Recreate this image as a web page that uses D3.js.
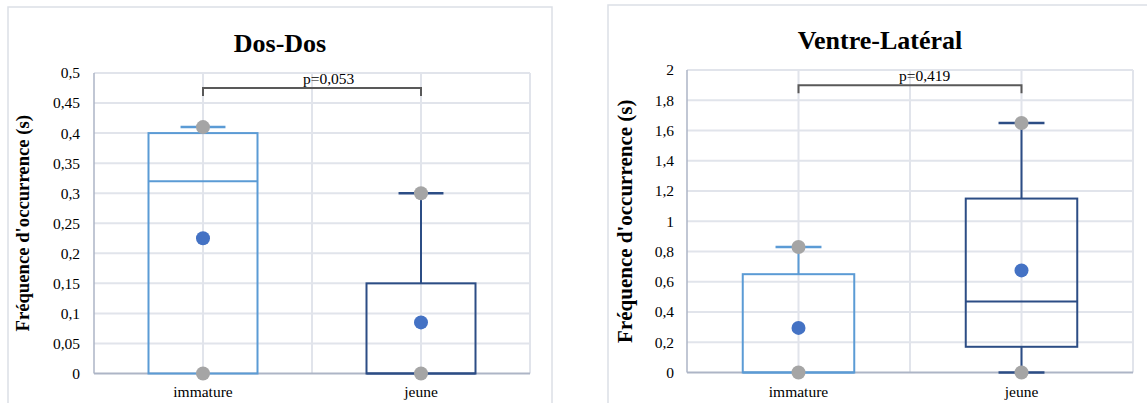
<!DOCTYPE html>
<html>
<head>
<meta charset="utf-8">
<script src="https://cdn.jsdelivr.net/npm/d3@7"></script>
<style>
  html, body { margin: 0; padding: 0; background: #ffffff; }
  svg { display: block; }
  text { font-family: "Liberation Serif", "Times New Roman", serif; fill: #000; }
</style>
</head>
<body>
<svg id="chart" width="1147" height="403"></svg>
<script>
// ---------- data ----------
const categories = ["immature", "jeune"];
const chartTitles = ["Dos-Dos", "Ventre-Latéral"];
const yAxisTitle = "Fréquence d'occurrence (s)";
const pValues = ["p=0,053", "p=0,419"];

// Dos-Dos
const dosMin    = [0, 0];
const dosQ1     = [0, 0];
const dosMedian = [0.32, 0];
const dosQ3     = [0.40, 0.15];
const dosMax    = [0.41, 0.30];
const dosMean   = [0.225, 0.085];
const dosPoints = [[0, 0.41], [0, 0.30]];
const dosTicks  = [0, 0.05, 0.1, 0.15, 0.2, 0.25, 0.3, 0.35, 0.4, 0.45, 0.5];
const dosTickLabels = ["0", "0,05", "0,1", "0,15", "0,2", "0,25", "0,3", "0,35", "0,4", "0,45", "0,5"];
const dosBracket = 0.475;

// Ventre-Latéral
const vlMin    = [0, 0];
const vlQ1     = [0, 0.17];
const vlMedian = [0, 0.47];
const vlQ3     = [0.65, 1.15];
const vlMax    = [0.83, 1.65];
const vlMean   = [0.295, 0.675];
const vlPoints = [[0, 0.83], [0, 1.65]];
const vlTicks  = [0, 0.2, 0.4, 0.6, 0.8, 1, 1.2, 1.4, 1.6, 1.8, 2];
const vlTickLabels = ["0", "0,2", "0,4", "0,6", "0,8", "1", "1,2", "1,4", "1,6", "1,8", "2"];
const vlBracket = 1.9;

// ---------- style ----------
const boxColors = ["#5b9bd5", "#2c4d85"];
const meanColor = "#4472c4";
const pointColor = "#a5a5a5";
const gridColor = "#e1e4eb";
const axisColor = "#adb5c6";
const panelColor = "#dcdfe6";

const svg = d3.select("#chart");

const panels = [
  {
    title: chartTitles[0], pval: pValues[0],
    min: dosMin, q1: dosQ1, med: dosMedian, q3: dosQ3, max: dosMax, mean: dosMean, pts: dosPoints,
    ticks: dosTicks, tickLabels: dosTickLabels, bracket: dosBracket, domain: [0, 0.5],
    frame: {x: 8, y: 7, w: 544, h: 410},
    plot: {l: 94, r: 530, t: 73, b: 373.5},
    titleY: 52, yTitleX: 29, yTitleSize: 18.7, tickRight: 80, pvalX: 303
  },
  {
    title: chartTitles[1], pval: pValues[1],
    min: vlMin, q1: vlQ1, med: vlMedian, q3: vlQ3, max: vlMax, mean: vlMean, pts: vlPoints,
    ticks: vlTicks, tickLabels: vlTickLabels, bracket: vlBracket, domain: [0, 2],
    frame: {x: 608, y: 5, w: 560, h: 410},
    plot: {l: 687, r: 1133, t: 70, b: 372.5},
    titleY: 49, yTitleX: 632, yTitleSize: 21, tickRight: 674, pvalX: 899
  }
];

panels.forEach(p => {
  const g = svg.append("g");

  // panel frame
  g.append("rect")
    .attr("x", p.frame.x).attr("y", p.frame.y)
    .attr("width", p.frame.w).attr("height", p.frame.h)
    .attr("fill", "none").attr("stroke", panelColor).attr("stroke-width", 1.5);

  const x = d3.scaleBand().domain(categories).range([p.plot.l, p.plot.r]).padding(0);
  const y = d3.scaleLinear().domain(p.domain).range([p.plot.b, p.plot.t]);
  const cx = c => x(c) + x.bandwidth() / 2;
  const boxW = x.bandwidth() * 0.5;
  const capW = x.bandwidth() * 0.103;

  // horizontal gridlines
  g.append("g").selectAll("line").data(p.ticks.filter(t => t !== 0)).join("line")
    .attr("x1", p.plot.l).attr("x2", p.plot.r)
    .attr("y1", d => y(d)).attr("y2", d => y(d))
    .attr("stroke", gridColor).attr("stroke-width", 2);

  // vertical gridlines (band edges and centers)
  const vx = [];
  categories.forEach(c => { vx.push(x(c)); vx.push(cx(c)); });
  vx.push(p.plot.r);
  g.append("g").selectAll("line").data(vx.slice(1)).join("line")
    .attr("x1", d => d).attr("x2", d => d)
    .attr("y1", p.plot.t).attr("y2", p.plot.b)
    .attr("stroke", gridColor).attr("stroke-width", 2);

  // y axis line
  g.append("line")
    .attr("x1", p.plot.l).attr("x2", p.plot.l)
    .attr("y1", p.plot.t).attr("y2", p.plot.b)
    .attr("stroke", axisColor).attr("stroke-width", 1.5);

  // x axis line
  g.append("line")
    .attr("x1", p.plot.l).attr("x2", p.plot.r)
    .attr("y1", y(0)).attr("y2", y(0))
    .attr("stroke", axisColor).attr("stroke-width", 2);

  // y tick labels
  g.append("g").selectAll("text").data(p.ticks).join("text")
    .attr("x", p.tickRight).attr("y", d => y(d))
    .attr("dy", "0.35em")
    .attr("text-anchor", "end")
    .style("font-size", "15.5px")
    .text((d, i) => p.tickLabels[i]);

  // x category labels
  g.append("g").selectAll("text").data(categories).join("text")
    .attr("x", d => cx(d)).attr("y", 397)
    .attr("text-anchor", "middle")
    .style("font-size", "15.5px")
    .text(d => d);

  // title
  g.append("text")
    .attr("x", p.frame.x + 272).attr("y", p.titleY)
    .attr("text-anchor", "middle")
    .style("font-size", "26px").style("font-weight", "bold")
    .text(p.title);

  // y axis title
  g.append("text")
    .attr("transform", `translate(${p.yTitleX},${(p.plot.t + p.plot.b) / 2}) rotate(-90)`)
    .attr("text-anchor", "middle")
    .style("font-size", p.yTitleSize + "px").style("font-weight", "bold")
    .text(yAxisTitle);

  // boxes
  categories.forEach((c, i) => {
    const col = boxColors[i];
    const xc = cx(c);
    // upper whisker
    if (p.max[i] > p.q3[i]) {
      g.append("line").attr("x1", xc).attr("x2", xc)
        .attr("y1", y(p.q3[i])).attr("y2", y(p.max[i]))
        .attr("stroke", col).attr("stroke-width", 2);
      g.append("line").attr("x1", xc - capW).attr("x2", xc + capW)
        .attr("y1", y(p.max[i])).attr("y2", y(p.max[i]))
        .attr("stroke", col).attr("stroke-width", 2.5);
    }
    // lower whisker
    if (p.min[i] < p.q1[i]) {
      g.append("line").attr("x1", xc).attr("x2", xc)
        .attr("y1", y(p.q1[i])).attr("y2", y(p.min[i]))
        .attr("stroke", col).attr("stroke-width", 2);
      g.append("line").attr("x1", xc - capW).attr("x2", xc + capW)
        .attr("y1", y(p.min[i])).attr("y2", y(p.min[i]))
        .attr("stroke", col).attr("stroke-width", 2.5);
    }
    // box
    g.append("rect")
      .attr("x", xc - boxW / 2).attr("width", boxW)
      .attr("y", y(p.q3[i])).attr("height", y(p.q1[i]) - y(p.q3[i]))
      .attr("fill", "none").attr("stroke", col).attr("stroke-width", 2);
    // median
    g.append("line")
      .attr("x1", xc - boxW / 2).attr("x2", xc + boxW / 2)
      .attr("y1", y(p.med[i])).attr("y2", y(p.med[i]))
      .attr("stroke", col).attr("stroke-width", 2);
    // data points
    g.append("g").selectAll("circle").data(p.pts[i]).join("circle")
      .attr("cx", xc).attr("cy", d => y(d)).attr("r", 7)
      .attr("fill", pointColor);
    // mean
    g.append("circle")
      .attr("cx", xc).attr("cy", y(p.mean[i])).attr("r", 7)
      .attr("fill", meanColor);
  });

  // significance bracket
  const bx1 = cx(categories[0]), bx2 = cx(categories[1]), by = y(p.bracket);
  g.append("path")
    .attr("d", `M${bx1},${by + 8}V${by}H${bx2}V${by + 8}`)
    .attr("fill", "none").attr("stroke", "#595959").attr("stroke-width", 2);
  g.append("text")
    .attr("x", p.pvalX).attr("y", by - 4)
    .style("font-size", "15.5px")
    .text(p.pval);
});
</script>
</body>
</html>
